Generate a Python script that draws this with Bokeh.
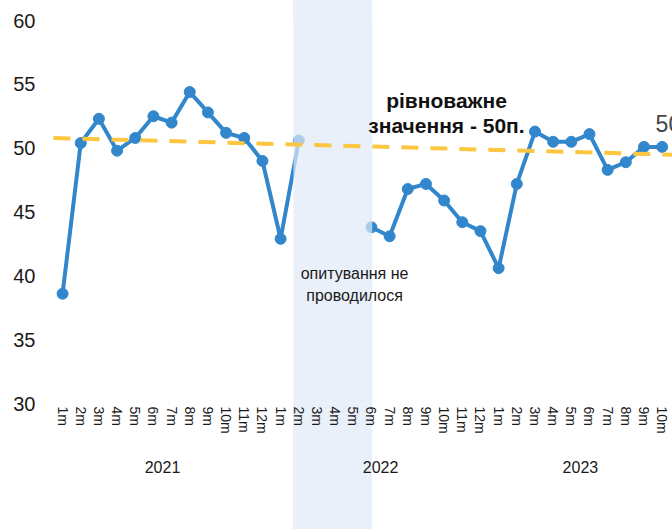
import numpy as np
from bokeh.plotting import figure
from bokeh.models import Range1d, FixedTicker, LinearAxis, Label
from bokeh.embed import file_html
from bokeh.resources import INLINE

# ---- data ----
years = ["2021", "2022", "2023"]
months_per_year = [12, 12, 10]
month_labels = [f"{m}m" for n in months_per_year for m in range(1, n + 1)]
values = [38.6, 50.4, 52.3, 49.8, 50.8, 52.5, 52.0, 54.4, 52.8, 51.2, 50.8, 49.0,
          42.9, 50.6, None, None, None, 43.8, 43.1, 46.8, 47.2, 45.9, 44.2, 43.5,
          40.6, 47.2, 51.3, 50.5, 50.5, 51.1, 48.3, 48.9, 50.1, 50.1]
trend_values = [50.78, 49.51]          # trend at first and last month
y_ticks = [30, 35, 40, 45, 50, 55, 60]
no_survey_from = 13                     # 2022 2m
no_survey_to = 17                       # 2022 6m
note_text = ["опитування не", "проводилося"]
equil_text = ["рівноважне", "значення - 50п."]
end_label = "50"

FONT = "Liberation Sans"
BLUE = "#3287cc"
YELLOW = "#fdc640"
BAND = "#dfeaf7"
BAND_ON_WHITE = "#e9f0f9"

W, H = 672, 529
n = len(values)
xs = np.arange(n, dtype=float)
ys = np.array([np.nan if v is None else v for v in values], dtype=float)

X0, X1 = -0.5, 33.57
Y0, Y1 = 30, 60
TOP, BOTTOM, LEFT = 20, 126, 53
px_per_x = (W - LEFT) / (X1 - X0)
px_per_y = (H - TOP - BOTTOM) / (Y1 - Y0)
band_left = no_survey_from - 0.3
band_right = no_survey_to + 0.05
band_l_px = LEFT + (band_left - X0) * px_per_x
band_r_px = LEFT + (band_right - X0) * px_per_x

# the band continues outside the plotting frame (behind the axes)
bg = (f"linear-gradient(to right, white 0px, white {band_l_px:.1f}px, "
      f"{BAND_ON_WHITE} {band_l_px:.1f}px, {BAND_ON_WHITE} {band_r_px:.1f}px, "
      f"white {band_r_px:.1f}px, white 100%)")

p = figure(width=W, height=H, output_backend="svg", toolbar_location=None,
           x_range=Range1d(X0, X1), y_range=Range1d(Y0, Y1),
           min_border_left=LEFT, min_border_right=0, min_border_top=TOP,
           min_border_bottom=BOTTOM, styles={"background": bg})
p.outline_line_color = None
p.grid.visible = False
p.background_fill_color = "white"
p.border_fill_alpha = 0.0

# y axis
ya = p.yaxis[0]
ya.ticker = FixedTicker(ticks=y_ticks)
ya.axis_line_color = None
ya.major_tick_line_color = None
ya.minor_tick_line_color = None
ya.major_tick_out = 0
ya.major_label_standoff = 18
ya.major_label_text_font = FONT
ya.major_label_text_font_size = "20px"
ya.major_label_text_color = "#1a1a1a"

# month axis
xa = p.xaxis[0]
xa.ticker = FixedTicker(ticks=list(range(n)))
xa.major_label_overrides = {i: lab for i, lab in enumerate(month_labels)}
xa.major_label_orientation = "vertical"
xa.axis_line_color = None
xa.major_tick_line_color = None
xa.minor_tick_line_color = None
xa.major_tick_out = 0
xa.major_label_standoff = 3
xa.major_label_text_font = FONT
xa.major_label_text_font_size = "14px"
xa.major_label_text_color = "#1a1a1a"

# year axis
starts = np.cumsum([0] + months_per_year[:-1])
centers = [float(s + (m - 1) / 2) for s, m in zip(starts, months_per_year)]
ya2 = LinearAxis(ticker=FixedTicker(ticks=centers),
                 major_label_overrides={c: y for c, y in zip(centers, years)})
ya2.axis_line_color = None
ya2.major_tick_line_color = None
ya2.minor_tick_line_color = None
ya2.major_tick_out = 0
ya2.major_label_standoff = 24
ya2.major_label_text_font = FONT
ya2.major_label_text_font_size = "16px"
ya2.major_label_text_color = "#1a1a1a"
p.add_layout(ya2, "below")

# data
p.line(xs, ys, line_width=4, line_color=BLUE)
p.scatter(xs, ys, size=11, fill_color=BLUE, line_color=BLUE)

# band (no survey) inside the frame, drawn over the data
band_w = (band_right - band_left) * px_per_x
band_cx = (band_left + band_right) / 2
band_cy = Y0 - (H / 2 - (H - BOTTOM)) / px_per_y
band = Label(x=band_cx, y=band_cy, text=" ",
             text_align="center", text_baseline="middle",
             text_font_size="10px", text_color=BAND, text_alpha=0.7,
             padding=(int(round((band_w - 2.8) / 2)), H // 2 + 4),
             background_fill_color=BAND, background_fill_alpha=0.7,
             level="annotation")
p.add_layout(band)

# trend line
slope = (trend_values[1] - trend_values[0]) / (n - 1)
tx = [X0, X1]
ty = [trend_values[0] + slope * X0, trend_values[0] + slope * X1]
tr = p.line(tx, ty, line_width=4, line_color=YELLOW, line_dash="17 12")
tr.level = "overlay"

# texts
note_x = (no_survey_from + no_survey_to) / 2 + 1.07
for k, t in enumerate(note_text):
    p.add_layout(Label(x=note_x, y=40.2 - 1.72 * k, text=t, text_align="center",
                       text_baseline="middle", text_font=FONT, text_font_size="16px",
                       text_color="#1a1a1a", level="overlay"))
for k, t in enumerate(equil_text):
    p.add_layout(Label(x=21.13, y=53.73 - 1.97 * k, text=t, text_align="center",
                       text_baseline="middle", text_font=FONT, text_font_size="21px",
                       text_font_style="bold", text_color="#111111", level="overlay"))
p.add_layout(Label(x=32.64, y=51.92, text=end_label, text_align="left",
                   text_baseline="middle", text_font=FONT, text_font_size="23px",
                   text_color="#444444", level="overlay"))

open("out.html", "w").write(file_html(p, INLINE))
